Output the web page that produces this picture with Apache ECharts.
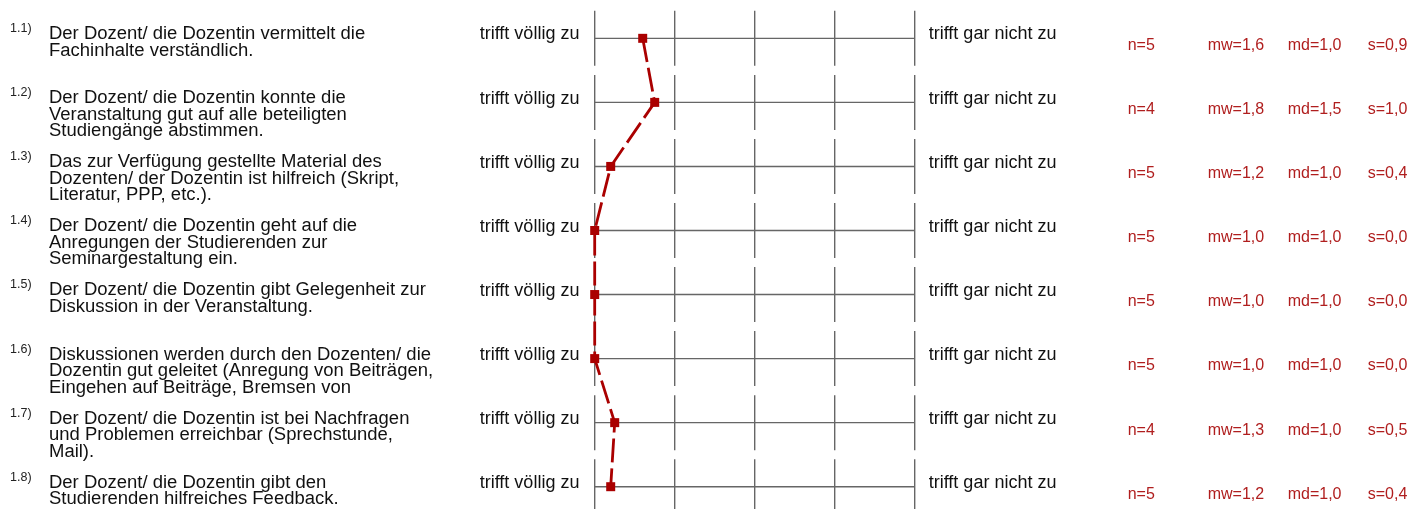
<!DOCTYPE html>
<html>
<head>
<meta charset="utf-8">
<script src="https://cdn.jsdelivr.net/npm/echarts@6/dist/echarts.min.js"></script>
<style>
html,body{margin:0;padding:0;background:#fff;}
#chart{width:1410px;height:509px;}
</style>
</head>
<body>
<div id="chart"></div>
<script>
const itemNumbers = ['1.1)','1.2)','1.3)','1.4)','1.5)','1.6)','1.7)','1.8)'];
const questions = [
  ['Der Dozent/ die Dozentin vermittelt die','Fachinhalte verständlich.'],
  ['Der Dozent/ die Dozentin konnte die','Veranstaltung gut auf alle beteiligten','Studiengänge abstimmen.'],
  ['Das zur Verfügung gestellte Material des','Dozenten/ der Dozentin ist hilfreich (Skript,','Literatur, PPP, etc.).'],
  ['Der Dozent/ die Dozentin geht auf die','Anregungen der Studierenden zur','Seminargestaltung ein.'],
  ['Der Dozent/ die Dozentin gibt Gelegenheit zur','Diskussion in der Veranstaltung.'],
  ['Diskussionen werden durch den Dozenten/ die','Dozentin gut geleitet (Anregung von Beiträgen,','Eingehen auf Beiträge, Bremsen von'],
  ['Der Dozent/ die Dozentin ist bei Nachfragen','und Problemen erreichbar (Sprechstunde,','Mail).'],
  ['Der Dozent/ die Dozentin gibt den','Studierenden hilfreiches Feedback.']
];
const meanValues = [1.6, 1.75, 1.2, 1.0, 1.0, 1.0, 1.25, 1.2];
const nValues = [5, 4, 5, 5, 5, 5, 4, 5];
const mwLabels = ['1,6','1,8','1,2','1,0','1,0','1,0','1,3','1,2'];
const mdLabels = ['1,0','1,5','1,0','1,0','1,0','1,0','1,0','1,0'];
const sLabels = ['0,9','1,0','0,4','0,0','0,0','0,0','0,5','0,4'];
const scaleTicks = [1, 2, 3, 4, 5];
const leftPole = 'trifft völlig zu';
const rightPole = 'trifft gar nicht zu';

const FONT = "'Liberation Sans', Arial, sans-serif";
const rows = itemNumbers.map((_, i) => i + 1);

function txt(x, y, text, font, fill) {
  return {
    type: 'text', x: x, y: y,
    style: {
      text: text, x: 0, y: 0, font: font, fill: fill,
      align: 'left', verticalAlign: 'middle',
      textAlign: 'left', textVerticalAlign: 'middle'
    }
  };
}

function renderRow(params, api) {
  const i = params.dataIndex;
  const row = api.value(0);
  const p0 = api.coord([scaleTicks[0], row]);
  const p1 = api.coord([scaleTicks[scaleTicks.length - 1], row]);
  const y = p0[1];
  const children = [];
  children.push({type:'line', shape:{x1:p0[0], y1:y, x2:p1[0], y2:y}, style:{stroke:'#666', lineWidth:1.4}});
  scaleTicks.forEach(t => {
    const tx = api.coord([t, row])[0];
    children.push({type:'line', shape:{x1:tx, y1:y-27.5, x2:tx, y2:y+27.5}, style:{stroke:'#666', lineWidth:1.4}});
  });
  children.push(txt(p0[0] - 115, y - 3.8, leftPole, '18px ' + FONT, '#111'));
  children.push(txt(p1[0] + 14, y - 3.8, rightPole, '18px ' + FONT, '#111'));
  children.push(txt(10, y - 9.5, itemNumbers[i], '12.5px ' + FONT, '#222'));
  children.push({
    type: 'text', x: 49, y: y - 12.2, scaleX: 1.05, scaleY: 1,
    style: {
      text: questions[i].join('\n'), x: 0, y: 0,
      font: '17.6px ' + FONT, fill: '#111', lineHeight: 16.5,
      align: 'left', verticalAlign: 'top', textAlign: 'left', textVerticalAlign: 'top'
    }
  });
  const red = '#b01e1e';
  const sf = '16px ' + FONT;
  children.push(txt(p1[0] + 213, y + 7.5, 'n=' + nValues[i], sf, red));
  children.push(txt(p1[0] + 293, y + 7.5, 'mw=' + mwLabels[i], sf, red));
  children.push(txt(p1[0] + 373, y + 7.5, 'md=' + mdLabels[i], sf, red));
  children.push(txt(p1[0] + 453, y + 7.5, 's=' + sLabels[i], sf, red));
  return {type:'group', children: children};
}

const chart = echarts.init(document.getElementById('chart'), null, {renderer:'canvas'});
chart.setOption({
  animation: false,
  backgroundColor: '#fff',
  grid: {left: 594.7, width: 320, top: 6.3, height: 480.4},
  xAxis: {type:'value', min: 1, max: 5, show: false},
  yAxis: {type:'value', min: 0.5, max: 8, inverse: true, show: false},
  series: [
    {
      type: 'custom',
      clip: false,
      z: 1,
      data: rows.map(r => [r]),
      encode: {y: 0},
      renderItem: renderRow,
      silent: true
    },
    {
      type: 'line',
      z: 5,
      data: meanValues.map((v, i) => [v, rows[i]]),
      symbol: 'rect',
      symbolSize: 9,
      itemStyle: {color: '#aa0000'},
      lineStyle: {color: '#aa0000', width: 2.8, type: [24, 6]},
      clip: false,
      silent: true
    }
  ]
});
</script>
</body>
</html>
